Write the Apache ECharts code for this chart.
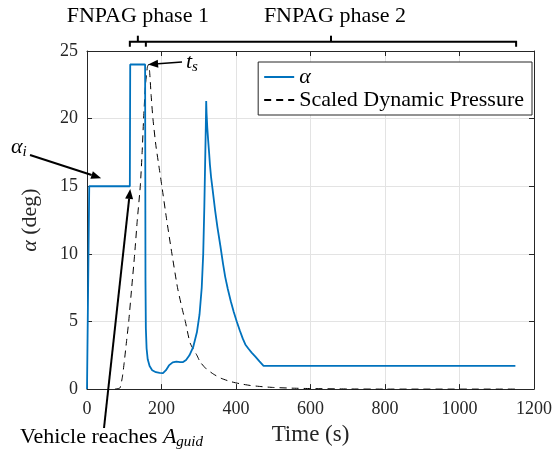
<!DOCTYPE html>
<html>
<head>
<meta charset="utf-8">
<script src="https://cdn.jsdelivr.net/npm/echarts@6/dist/echarts.min.js"></script>
<style>
  html, body { margin: 0; padding: 0; background: #fff; }
  #chart { width: 555px; height: 451px; }
</style>
</head>
<body>
<div id="chart"></div>
<script>
// angle of attack history (s, deg)
const alphaTime = [0, 5, 6, 115, 116, 156, 157, 158, 160, 163, 168, 175, 185, 195, 204, 212, 220, 230, 240, 250, 258, 266, 275, 285, 295, 302, 308, 312, 315, 317, 319, 320, 321, 323, 325, 328, 330, 333, 337, 344, 350, 358, 365, 371, 378, 386, 394, 402, 410, 418, 425, 433, 442, 452, 463, 474, 1150]
const alphaDeg = [0, 0, 15, 15, 24, 24, 8, 4.5, 3, 2.2, 1.7, 1.4, 1.25, 1.2, 1.18, 1.4, 1.75, 1.98, 2.03, 2.0, 2.0, 2.15, 2.5, 3.1, 4.2, 5.5, 7.5, 10, 13.5, 16.5, 19.5, 21.3, 20.4, 19.3, 18.5, 17.4, 16.6, 15.7, 14.8, 13.2, 12.0, 10.6, 9.3, 8.3, 7.4, 6.5, 5.7, 5.0, 4.35, 3.75, 3.3, 3.0, 2.7, 2.4, 2.05, 1.72, 1.72]

// scaled dynamic pressure (s, -)
const qTime = [75, 85, 89, 95, 100, 106, 112, 120, 128, 135, 143, 148, 152, 157, 162, 165, 168, 172, 177, 185, 193, 201, 214, 228, 243, 255, 264, 277, 295, 304, 320, 340, 360, 385, 410, 438, 470, 501, 550, 600, 700, 800, 1150]
const qScaled = [0, 0.05, 0.1, 0.9, 2, 3.5, 5, 7.5, 10, 12.5, 15, 17.5, 20, 22.5, 23.8, 24, 23.5, 21.8, 20, 18, 16.5, 15, 12.5, 10, 7.5, 6, 5, 3.4, 2.5, 2.0, 1.5, 1.1, 0.8, 0.56, 0.4, 0.27, 0.18, 0.12, 0.07, 0.04, 0.01, 0, 0]

const xTicks = [0, 200, 400, 600, 800, 1000, 1200]
const yTicks = [0, 5, 10, 15, 20, 25]

const FONT = "Liberation Serif"
const AX = "#262626"
const GRID = "#e3e3e3"
const BLUE = "#0072BD"

const chart = echarts.init(document.getElementById("chart"))

function zip(a, b) { return a.map((v, i) => [v, b[i]]) }

const axisCommon = {
  type: "value",
  axisLine: { show: true, onZero: false, lineStyle: { color: AX, width: 1 } },
  axisTick: { show: true, inside: true, length: 5, lineStyle: { color: AX } },
}

chart.setOption({
  animation: false,
  grid: { left: 87, top: 51, right: 21, bottom: 60 },
  legend: {
    orient: "vertical",
    right: 23,
    top: 62,
    itemWidth: 30,
    itemHeight: 14,
    itemGap: 1,
    padding: [4, 8, 4, 5],
    borderColor: AX,
    borderWidth: 1,
    backgroundColor: "#fff",
    itemStyle: { opacity: 0 },
    textStyle: {
      fontFamily: FONT, fontSize: 22, color: "#000",
      rich: { i: { fontFamily: FONT, fontSize: 22, fontStyle: "italic", color: "#000" } },
    },
    formatter: n => n === "alpha" ? "{i|α}" : n,
    data: ["alpha", "Scaled Dynamic Pressure"],
  },
  xAxis: [
    {
      ...axisCommon,
      min: xTicks[0], max: xTicks[xTicks.length - 1], interval: 200,
      name: "Time (s)",
      nameLocation: "middle",
      nameGap: 33,
      nameTextStyle: { fontFamily: FONT, fontSize: 23, color: AX },
      axisLabel: { fontFamily: FONT, fontSize: 18, color: AX, margin: 11, formatter: v => String(v) },
      splitLine: { show: true, lineStyle: { color: GRID } },
    },
    {
      ...axisCommon, position: "top",
      min: xTicks[0], max: xTicks[xTicks.length - 1], interval: 200,
      axisLabel: { show: false }, splitLine: { show: false },
    },
  ],
  yAxis: [
    {
      ...axisCommon,
      min: yTicks[0], max: yTicks[yTicks.length - 1], interval: 5,
      name: "{i|α} (deg)",
      nameLocation: "middle",
      nameGap: 46,
      nameTextStyle: {
        fontFamily: FONT, fontSize: 22, color: AX,
        rich: { i: { fontFamily: FONT, fontSize: 22, fontStyle: "italic", color: AX } },
      },
      axisLabel: { fontFamily: FONT, fontSize: 18, color: AX, margin: 9 },
      splitLine: { show: true, lineStyle: { color: GRID } },
    },
    {
      ...axisCommon, position: "right",
      min: yTicks[0], max: yTicks[yTicks.length - 1], interval: 5,
      axisLabel: { show: false }, splitLine: { show: false },
    },
  ],
  series: [
    {
      name: "alpha",
      type: "line",
      data: zip(alphaTime, alphaDeg),
      symbol: "none",
      lineStyle: { color: BLUE, width: 1.8 },
      itemStyle: { color: BLUE },
      z: 3,
    },
    {
      name: "Scaled Dynamic Pressure",
      type: "line",
      data: zip(qTime, qScaled),
      symbol: "none",
      smooth: 0.2,
      lineStyle: { color: "#000", width: 1, type: [7, 5] },
      itemStyle: { color: "#000" },
      z: 2,
    },
  ],
})

// annotations
const px = (t, v) => chart.convertToPixel({ xAxisIndex: 0, yAxisIndex: 0 }, [t, v])

function arrow(x1, y1, x2, y2, w) {
  const a = Math.atan2(y2 - y1, x2 - x1)
  const len = 10, half = 4
  const bx = x2 - len * Math.cos(a), by = y2 - len * Math.sin(a)
  const nx = -Math.sin(a), ny = Math.cos(a)
  return [
    { type: "line", shape: { x1, y1, x2: bx, y2: by }, style: { stroke: "#000", lineWidth: w }, z: 10 },
    { type: "polygon", shape: { points: [[x2, y2], [bx + half * nx, by + half * ny], [bx - half * nx, by - half * ny]] }, style: { fill: "#000" }, z: 10 },
  ]
}

const tip1 = px(38, 15.6)
const tip2 = px(116, 14.8)
const tip3 = px(164, 24)
const bA = px(115, 0)[0], bB = px(158, 0)[0], bC = px(1152, 0)[0]
const yb = 41.7
const m1 = (bA + bB) / 2, m2 = (bB + bC) / 2
const big = { fontFamily: FONT, fontSize: 22, fill: "#000" }

chart.setOption({
  graphic: [
    ...arrow(30, 155, tip1[0], tip1[1], 2),
    ...arrow(104, 428, tip2[0], tip2[1], 2),
    ...arrow(182, 62, tip3[0], tip3[1], 1.6),
    { type: "polyline", shape: { points: [[bA, yb + 5], [bA, yb], [bC, yb], [bC, yb + 5]] }, style: { stroke: "#000", lineWidth: 2, fill: null } },
    { type: "line", shape: { x1: bB, y1: yb, x2: bB, y2: yb + 5 }, style: { stroke: "#000", lineWidth: 2 } },
    { type: "line", shape: { x1: m1, y1: yb, x2: m1, y2: yb - 6 }, style: { stroke: "#000", lineWidth: 2 } },
    { type: "line", shape: { x1: m2, y1: yb, x2: m2, y2: yb - 6 }, style: { stroke: "#000", lineWidth: 2 } },
    { type: "text", style: { ...big, text: "FNPAG phase 1", x: m1, y: 16, align: "center", verticalAlign: "middle" } },
    { type: "text", style: { ...big, text: "FNPAG phase 2", x: m2 + 4, y: 16, align: "center", verticalAlign: "middle" } },
    {
      type: "text", z: 11,
      style: {
        text: "{i|t}{s|s}", x: 186, y: 62, verticalAlign: "middle",
        rich: { i: { fontFamily: FONT, fontSize: 22, fontStyle: "italic" }, s: { fontFamily: FONT, fontSize: 15, fontStyle: "italic", padding: [10, 0, 0, 0] } },
      },
    },
    {
      type: "text", z: 11,
      style: {
        text: "{i|α}{s|i}", x: 11, y: 147, verticalAlign: "middle",
        rich: { i: { fontFamily: FONT, fontSize: 22, fontStyle: "italic" }, s: { fontFamily: FONT, fontSize: 15, fontStyle: "italic", padding: [10, 0, 0, 0] } },
      },
    },
    {
      type: "text", z: 11,
      style: {
        text: "{n|Vehicle reaches }{i|A}{s|guid}", x: 20, y: 437, verticalAlign: "middle",
        rich: {
          n: { fontFamily: FONT, fontSize: 22 },
          i: { fontFamily: FONT, fontSize: 22, fontStyle: "italic" },
          s: { fontFamily: FONT, fontSize: 15, fontStyle: "italic", padding: [10, 0, 0, 0] },
        },
      },
    },
  ],
})
</script>
</body>
</html>
